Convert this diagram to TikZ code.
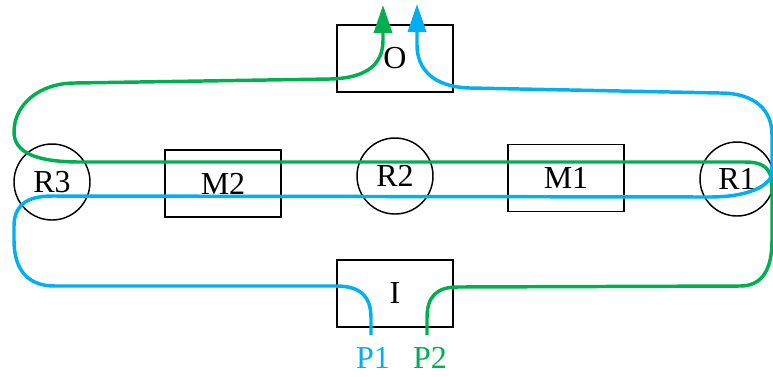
\documentclass[tikz,border=0pt]{standalone}
\usepackage{fontspec}
\setmainfont{Liberation Serif}
\usetikzlibrary{arrows.meta}
\definecolor{pgreen}{HTML}{00B050}
\definecolor{pblue}{HTML}{00B0F0}
\begin{document}
\begin{tikzpicture}[x=0.75pt,y=-0.75pt,
  lbl/.style={font=\fontsize{24}{28}\selectfont},
  boxnode/.style={draw,line width=1.1pt,minimum width=87pt,minimum height=50.25pt,inner sep=0pt,outer sep=0pt,lbl},
  ringnode/.style={draw,circle,line width=1.1pt,minimum size=57pt,inner sep=0pt,outer sep=0pt,lbl},
  gpath/.style={draw=pgreen,line width=2.6pt},
  bpath/.style={draw=pblue,line width=2.6pt},
  tip/.style={-{Triangle[length=21pt,width=13.5pt]}}]
\useasboundingbox (0,0) rectangle (773,376);
\node[boxnode] (O) at (395,58.5) {O};
\node[boxnode] (I) at (395,293.5) {I};
\node[boxnode] (M2) at (223,183.5) {M2};
\node[boxnode] (M1) at (566,178) {M1};
\node[ringnode] (R3) at (52,182) {R3};
\node[ringnode] (R2) at (395,176) {R2};
\node[ringnode,minimum size=55.5pt] (R1) at (737,179) {R1};
\node[lbl,text=pblue] (P1) at (373,358) {P1};
\node[lbl,text=pgreen] (P2) at (430,358) {P2};
\coordinate (p1) at (371,335);
\coordinate (p2) at (427,335);
\coordinate (og) at (383,5);
\coordinate (ob) at (417,4);
% green
\draw[gpath,tip] (p2) -- (427,318) .. controls (427,296) and (437,287) .. (458,287)
  -- (740,286) .. controls (762,286) and (772,270) .. (772,240)
  -- (772,195) .. controls (772,186) and (771,180) .. (771,177)
  .. controls (768,166) and (760,162) .. (745,162)
  -- (80,162) .. controls (35,162) and (14,152) .. (14,132)
  .. controls (14,104) and (40,83) .. (75,83)
  -- (330,79) .. controls (370,78) and (383,62) .. (383,40) -- (og);
% blue
\draw[bpath,tip] (p1) -- (371,318) .. controls (371,296) and (360,286) .. (336,286)
  -- (55,286) .. controls (26,286) and (14,268) .. (14,240)
  -- (14,226) .. controls (14,206) and (26,196) .. (52,196)
  -- (710,197) .. controls (740,197) and (764,190) .. (771,177)
  .. controls (772,172) and (772,166) .. (772,158)
  -- (772,135) .. controls (772,110) and (755,93) .. (720,93)
  -- (470,88) .. controls (432,87) and (417,68) .. (417,45) -- (ob);
\end{tikzpicture}
\end{document}
